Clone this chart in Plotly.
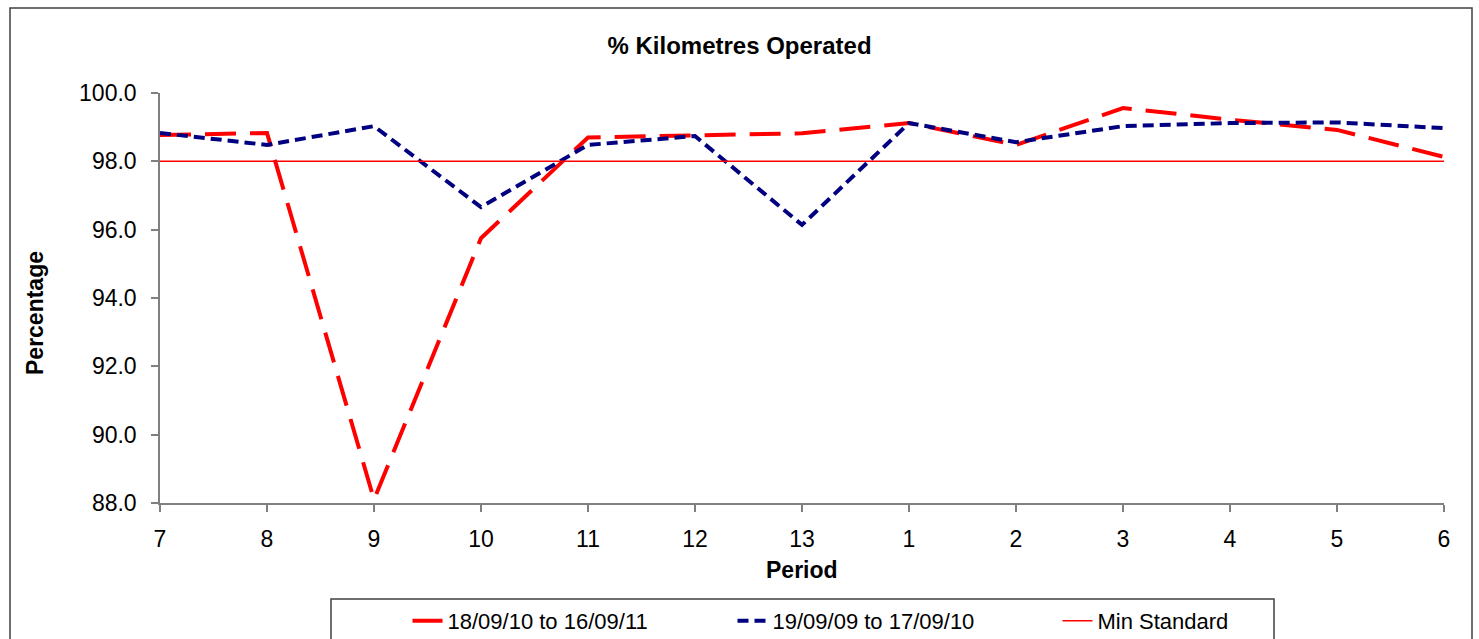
import plotly.graph_objects as go

periods = ["7", "8", "9", "10", "11", "12", "13", "1", "2", "3", "4", "5", "6"]
series_2010_11 = [98.77, 98.83, 88.1, 95.75, 98.70, 98.77, 98.82, 99.12, 98.48, 99.56, 99.22, 98.92, 98.13]
series_2009_10 = [98.83, 98.48, 99.03, 96.66, 98.48, 98.74, 96.14, 99.12, 98.56, 99.03, 99.12, 99.14, 98.97]
min_standard = [98.0] * len(periods)

name_a = "18/09/10 to 16/09/11"
name_b = "19/09/09 to 17/09/10"
name_c = "Min Standard"

FONT = "Liberation Sans, Arial, sans-serif"

fig = go.Figure()
fig.add_trace(go.Scatter(x=periods, y=series_2010_11, mode="lines", name=name_a,
                         line=dict(color="#FF0000", width=4, dash="31px,14px")))
fig.add_trace(go.Scatter(x=periods, y=series_2009_10, mode="lines", name=name_b,
                         line=dict(color="#000080", width=4, dash="11px,6px")))
fig.add_trace(go.Scatter(x=periods, y=min_standard, mode="lines", name=name_c,
                         line=dict(color="#FF0000", width=1.5)))

L, R, T, B = 160, 35, 93, 136
W, H = 1479, 639
pw = W - L - R
ph = H - T - B

def px(x):
    return (x - L) / pw

def py(y):
    return (H - B - y) / ph

fig.update_layout(
    width=W, height=H,
    margin=dict(l=L, r=R, t=T, b=B, pad=0, autoexpand=False),
    paper_bgcolor="white", plot_bgcolor="white",
    font=dict(family=FONT, size=23, color="black"),
    title=dict(text="<b>% Kilometres Operated</b>", x=0.5, xref="container", xanchor="center",
               y=1 - 46 / H, yref="container", yanchor="middle",
               font=dict(family=FONT, size=24, color="black")),
    xaxis=dict(type="category", range=[0, 12], showline=True, linecolor="#808080", linewidth=1.5,
               ticks="outside", ticklen=7, tickcolor="#808080", tickwidth=1.5,
               showgrid=False, zeroline=False, tickfont=dict(size=23), ticklabelstandoff=8),
    yaxis=dict(range=[88, 100], dtick=2, tick0=88, tickformat=".1f", showline=True,
               linecolor="#808080", linewidth=1.5, ticks="outside", ticklen=7,
               tickcolor="#808080", tickwidth=1.5, showgrid=False, zeroline=False,
               tickfont=dict(size=23), ticklabelstandoff=10),
    showlegend=True,
    legend=dict(orientation="h", x=px(895), xanchor="center", y=py(621), yanchor="middle",
                bgcolor="rgba(0,0,0,0)", borderwidth=0, font=dict(size=22),
                entrywidth=280, entrywidthmode="pixels", traceorder="normal"),
    annotations=[
        dict(text="<b>Percentage</b>", x=px(35), y=py(313), xref="paper", yref="paper",
             textangle=-90, showarrow=False, font=dict(size=23), xanchor="center", yanchor="middle"),
        dict(text="<b>Period</b>", x=0.5, y=py(570), xref="paper", yref="paper",
             showarrow=False, font=dict(size=23), xanchor="center", yanchor="middle"),
    ],
    shapes=[
        dict(type="rect", xref="paper", yref="paper", x0=px(10), x1=px(1472), y0=py(700), y1=py(8),
             line=dict(color="#404040", width=1.5), fillcolor="rgba(0,0,0,0)", layer="below"),
        dict(type="rect", xref="paper", yref="paper", x0=px(331), x1=px(1274), y0=py(700), y1=py(599),
             line=dict(color="#404040", width=1.5), fillcolor="rgba(0,0,0,0)", layer="below"),
    ],
)

fig.write_html("out.html", config={"displayModeBar": False},
               post_script="document.body.style.margin='0';document.body.style.overflow='hidden';")
